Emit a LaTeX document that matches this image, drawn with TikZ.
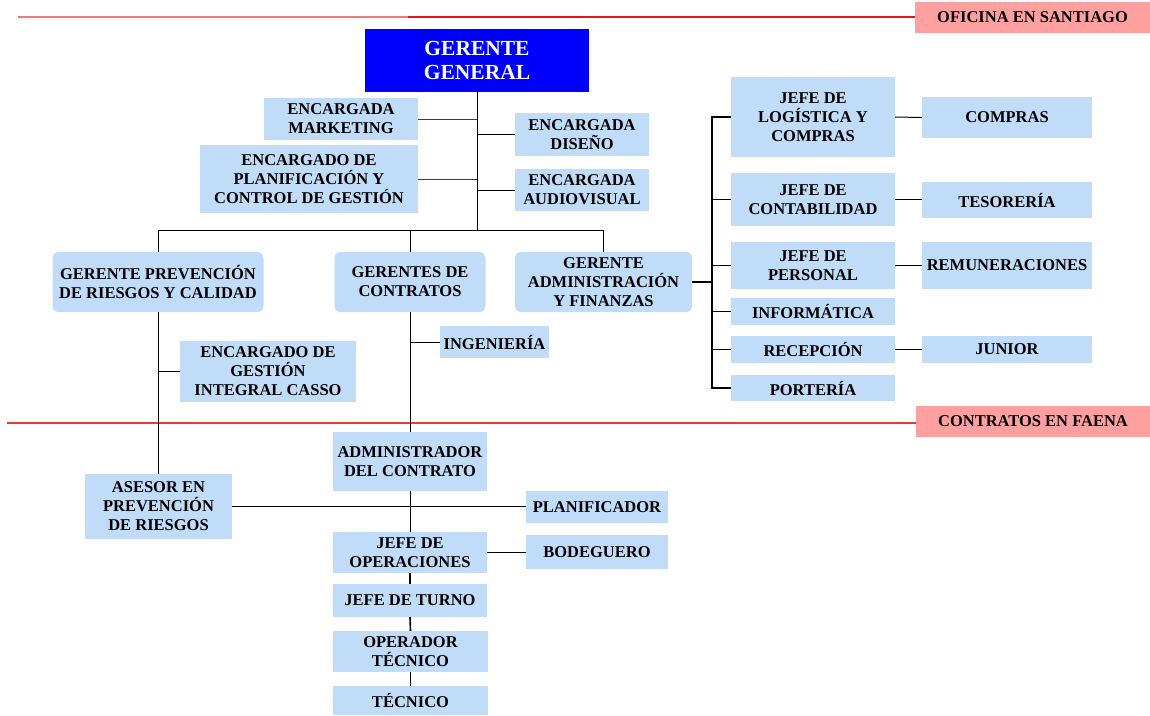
\documentclass[tikz,border=0pt]{standalone}
\usepackage{fontspec}
\setmainfont{Liberation Serif}
\definecolor{boxblue}{RGB}{192,220,248}
\definecolor{headblue}{RGB}{0,0,255}
\definecolor{tagpink}{RGB}{255,160,160}
\definecolor{zonered}{RGB}{230,20,20}
\definecolor{zonesalmon}{RGB}{242,120,120}
\definecolor{linkgray}{RGB}{60,60,60}
\tikzset{
  orgbox/.style={fill=boxblue, draw=none, inner sep=0pt, align=center,
    font=\fontsize{16.5}{19}\selectfont\bfseries, text=black},
  mgrbox/.style={orgbox, rounded corners=6pt},
  headbox/.style={fill=headblue, draw=none, inner sep=0pt, align=center,
    font=\fontsize{21.5}{24}\selectfont\bfseries, text=white},
  tagbox/.style={fill=tagpink, draw=none, inner sep=0pt, align=center,
    font=\fontsize{16.5}{19}\selectfont\bfseries, text=black},
  link/.style={draw=black, line width=1pt},
  softlink/.style={draw=linkgray, line width=1pt},
  zone/.style={draw=zonered, line width=1.2pt},
}
\begin{document}
\begin{tikzpicture}[x=1pt,y=-1pt]
\useasboundingbox (0,0) rectangle (1150,715);

% zone labels
\node[tagbox, minimum width=235, minimum height=31] (ofi) at (1032.5,17.5) {OFICINA EN SANTIAGO};
\node[tagbox, minimum width=234, minimum height=31] (faena) at (1033,421.5) {CONTRATOS EN FAENA};
\coordinate (zoneA) at (18,17);
\coordinate (zoneAmid) at (408,17);
\coordinate (zoneB) at (7,423);
\draw[draw=zonesalmon, line width=1.8pt] (zoneA) -- (zoneAmid);
\draw[zone] (zoneAmid) -- (ofi.west |- zoneAmid);
\draw[zone, draw=zonered!85!white] (zoneB) -- (faena.west |- zoneB);

% top management
\node[headbox, minimum width=224, minimum height=63] (gg) at (477,60.5) {GERENTE\\GENERAL};
\node[orgbox, minimum width=154, minimum height=42] (mkt) at (341,119) {ENCARGADA\\MARKETING};
\node[orgbox, minimum width=134, minimum height=43] (dis) at (582,134.5) {ENCARGADA\\DISEÑO};
\node[orgbox, minimum width=218, minimum height=68] (plan) at (309,179) {ENCARGADO DE\\PLANIFICACIÓN Y\\CONTROL DE GESTIÓN};
\node[orgbox, minimum width=134, minimum height=42] (aud) at (582,190) {ENCARGADA\\AUDIOVISUAL};

% managers
\node[mgrbox, minimum width=211, minimum height=60] (gprc) at (158,282) {GERENTE PREVENCIÓN\\DE RIESGOS Y CALIDAD};
\node[mgrbox, minimum width=151, minimum height=60] (gdc) at (410,282) {GERENTES DE\\CONTRATOS};
\node[mgrbox, minimum width=177, minimum height=60] (gaf) at (603.5,282) {GERENTE\\ADMINISTRACIÓN\\Y FINANZAS};

% administration and finance
\node[orgbox, minimum width=164, minimum height=80] (jlc) at (813,117) {JEFE DE\\LOGÍSTICA Y\\COMPRAS};
\node[orgbox, minimum width=164, minimum height=53] (jco) at (813,199.5) {JEFE DE\\CONTABILIDAD};
\node[orgbox, minimum width=164, minimum height=47] (jpe) at (813,265.5) {JEFE DE\\PERSONAL};
\node[orgbox, minimum width=164, minimum height=27] (inf) at (813,311.5) {INFORMÁTICA};
\node[orgbox, minimum width=164, minimum height=27] (rec) at (813,349.5) {RECEPCIÓN};
\node[orgbox, minimum width=164, minimum height=26] (por) at (813,388) {PORTERÍA};
\node[orgbox, minimum width=170, minimum height=41] (com) at (1007,117.5) {COMPRAS};
\node[orgbox, minimum width=170, minimum height=36] (tes) at (1007,200) {TESORERÍA};
\node[orgbox, minimum width=170, minimum height=47] (rem) at (1007,265.5) {REMUNERACIONES};
\node[orgbox, minimum width=170, minimum height=27] (jun) at (1007,349.5) {JUNIOR};

% risk prevention and contracts
\node[orgbox, minimum width=176, minimum height=61] (casso) at (268,371.5) {ENCARGADO DE\\GESTIÓN\\INTEGRAL CASSO};
\node[orgbox, minimum width=109, minimum height=32] (ing) at (494.5,342) {INGENIERÍA};

% field contracts
\node[orgbox, minimum width=154, minimum height=59] (adm) at (410,461.5) {ADMINISTRADOR\\DEL CONTRATO};
\node[orgbox, minimum width=147, minimum height=65] (ase) at (158.5,506.5) {ASESOR EN\\PREVENCIÓN\\DE RIESGOS};
\node[orgbox, minimum width=142, minimum height=32] (pla) at (597,507) {PLANIFICADOR};
\node[orgbox, minimum width=154, minimum height=41] (jop) at (410,552.5) {JEFE DE\\OPERACIONES};
\node[orgbox, minimum width=142, minimum height=34] (bod) at (597,552) {BODEGUERO};
\node[orgbox, minimum width=154, minimum height=33] (jtu) at (410,600.5) {JEFE DE TURNO};
\node[orgbox, minimum width=155, minimum height=41] (opt) at (410.5,651.5) {OPERADOR\\TÉCNICO};
\node[orgbox, minimum width=155, minimum height=29] (tec) at (410.5,700.5) {TÉCNICO};

% connectors: general management
\coordinate (bus) at (477,230);
\draw[link] (gg.south) -- (bus);
\draw[softlink] (mkt.east) -- (mkt.east -| gg.south);
\draw[softlink] (plan.east) -- (plan.east -| gg.south);
\draw[link] (dis.west) -- (dis.west -| gg.south);
\draw[link] (aud.west) -- (aud.west -| gg.south);
\draw[link] (gprc.north) |- (bus);
\draw[link] (bus) -| (gaf.north);
\draw[link] (gdc.north) -- (gdc.north |- bus);

% connectors: administration and finance
\coordinate (adminbus) at (712,282);
\draw[draw=black, line width=2pt] (gaf.east) -- (adminbus);
\draw[draw=black, line width=1.5pt] (jlc.west) -- (jlc.west -| adminbus) |- (por.west);
\foreach \n in {jco,jpe,inf,rec}
  \draw[link] (\n.west) -- (\n.west -| adminbus);
\draw[link] (jlc.east) -- (com.west);
\draw[link] (jco.east) -- (jco.east -| tes.west);
\draw[link] (jpe.east) -- (rem.west);
\draw[link] (rec.east) -- (jun.west);

% connectors: risk prevention and contracts
\draw[link] (gprc.south) -- (gprc.south |- ase.north);
\draw[link] (casso.west) -- (casso.west -| gprc.south);
\draw[link] (gdc.south) -- (adm.north);
\draw[link] (ing.west) -- (ing.west -| gdc.south);

% connectors: field contracts
\draw[link] (ase.east) -- (ase.east -| pla.west);
\draw[link] (adm.south) -- (jop.north);
\draw[link] (jop.east) -- (jop.east -| bod.west);
\draw[draw=black, line width=1.6pt] (jop.south) -- (jtu.north);
\draw[draw=black, line width=1.6pt] (jtu.south) -- (opt.north);
\draw[draw=black, line width=1.6pt] (opt.south) -- (tec.north);
\end{tikzpicture}
\end{document}
